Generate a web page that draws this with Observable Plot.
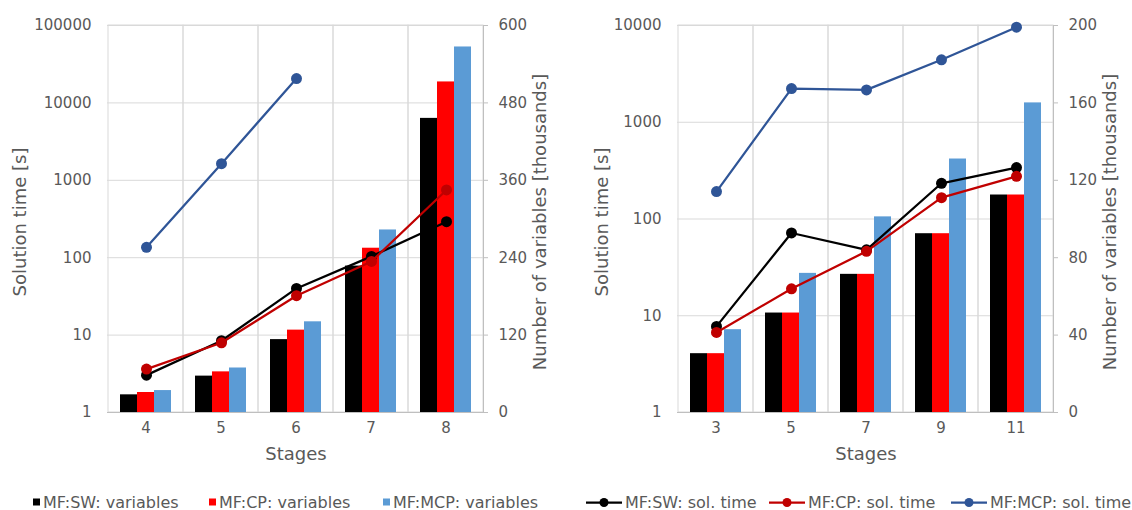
<!DOCTYPE html>
<html>
<head>
<meta charset="utf-8">
<script src="https://cdn.jsdelivr.net/npm/d3@7"></script>
<script src="https://cdn.jsdelivr.net/npm/@observablehq/plot@0.6"></script>
<style>
  body { margin: 0; background: #fff; font-family: "DejaVu Sans", sans-serif; }
  #chart { position: relative; width: 1132px; height: 510px; overflow: hidden; }
  .panel { position: absolute; top: 0; height: 470px; }
  .panel svg { position: absolute; left: 0; top: 0; }
  .bars text { fill: #595959; }
  #legend { position: absolute; left: 0; top: 470px; width: 1132px; height: 40px; font-size: 16px; color: #595959; }
  .item { position: absolute; top: 32px; transform: translateY(-50%); display: flex; align-items: center; white-space: nowrap; }
  .sq { width: 7px; height: 7px; margin-right: 3px; }
</style>
</head>
<body>
<div id="chart">
  <div class="panel" id="left"></div>
  <div class="panel" id="right"></div>
  <div id="legend"></div>
</div>
<script>
// ---------- data ----------
const seriesKeys = ["SW", "CP", "MCP"];
const varLabels = ["MF:SW: variables", "MF:CP: variables", "MF:MCP: variables"];
const timeLabels = ["MF:SW: sol. time", "MF:CP: sol. time", "MF:MCP: sol. time"];
const barColors = ["#000000", "#ff0000", "#5b9bd5"];
const lineColors = ["#000000", "#c00000", "#2f5597"];

// left panel
const stagesL = ["4", "5", "6", "7", "8"];
const varsL_SW = [27.4, 56.4, 113, 227, 456];
const varsL_CP = [31, 63, 127.7, 254.7, 512.5];
const varsL_MCP = [34, 69, 140.6, 283, 566.7];
const timeL_SW = [3.04, 8.45, 40.1, 104, 292];
const timeL_CP = [3.64, 7.96, 32.3, 89.5, 750];
const timeL_MCP = [136, 1641, 20600, null, null];
const logTicksL = [1, 10, 100, 1000, 10000, 100000];
const varTicksL = [0, 120, 240, 360, 480, 600];

// right panel
const stagesR = ["3", "5", "7", "9", "11"];
const varsR_SW = [30.4, 51.4, 71.4, 92.4, 112.4];
const varsR_CP = [30.4, 51.4, 71.4, 92.4, 112.4];
const varsR_MCP = [42.8, 71.9, 101.1, 131, 160];
const timeR_SW = [7.76, 71.7, 48, 234, 340];
const timeR_CP = [6.72, 19.0, 46.3, 166, 276];
const timeR_MCP = [192, 2230, 2160, 4420, 9600];
const logTicksR = [1, 10, 100, 1000, 10000];
const varTicksR = [0, 40, 80, 120, 160, 200];

// ---------- drawing ----------
const H = 470, MT = 25, MB = 58;
const FONT = "DejaVu Sans";

function drawPanel(el, cfg) {
  const {stages, vars, times, logTicks, varTicks, width, marginLeft, marginRight} = cfg;
  const logMax = logTicks[logTicks.length - 1];
  const varMax = varTicks[varTicks.length - 1];
  el.style.width = width + "px";
  el.style.left = cfg.left + "px";
  const baseStyle = {fontFamily: FONT, fontSize: "15px", color: "#595959", background: "transparent", overflow: "visible"};
  const common = {width, height: H, marginTop: MT, marginBottom: MB, marginLeft, marginRight};

  // Layer A: grid, left & bottom axes, titles
  const layerA = Plot.plot({
    ...common,
    style: baseStyle,
    x: {type: "band", domain: stages, padding: 0, tickSize: 0, tickPadding: 10, label: null},
    y: {type: "log", domain: [1, logMax], ticks: logTicks, tickFormat: d => String(d), tickSize: 0, tickPadding: 16, label: null},
    marks: [
      Plot.ruleY(logTicks, {stroke: "#d9d9d9"}),
      Plot.barY(stages, {x: d => d, y1: 1, y2: logMax, fill: "none", stroke: "#d9d9d9"}),
      Plot.ruleY([1], {stroke: "#bfbfbf"}),
      Plot.text(["Stages"], {text: d => d, frameAnchor: "bottom", lineAnchor: "middle", textAnchor: "middle", dy: 42, fontSize: 18}),
      Plot.text(["Solution time [s]"], {text: d => d, frameAnchor: "left", textAnchor: "middle", lineAnchor: "middle", dx: cfg.leftTitleDx, dy: 3, rotate: -90, fontSize: 18}),
      Plot.text(["Number of variables [thousands]"], {text: d => d, frameAnchor: "right", textAnchor: "middle", lineAnchor: "middle", dx: 56, dy: 3, rotate: -90, fontSize: 18})
    ]
  });

  // Layer B: grouped bars (variables), right linear axis
  const barTable = [];
  stages.forEach((s, i) => seriesKeys.forEach((k, j) => barTable.push({stage: s, series: k, value: vars[j][i]})));
  const layerB = Plot.plot({
    ...common,
    style: {...baseStyle, color: "#bfbfbf"},
    facet: {data: barTable, x: "stage"},
    fx: {domain: stages, padding: 0, axis: null, label: null},
    x: {domain: seriesKeys, paddingInner: 0, paddingOuter: 0.69, axis: null},
    y: {domain: [0, varMax], axis: "right", ticks: varTicks, tickSize: 4, tickPadding: 11, label: null, line: true},
    color: {domain: seriesKeys, range: barColors},
    marks: [
      Plot.barY(barTable, {x: "series", y: "value", fill: "series"})
    ]
  });
  layerB.classList.add("bars");

  // Layer C: solution-time lines on the log axis
  const lineMarks = [];
  seriesKeys.forEach((k, j) => {
    const pts = [];
    stages.forEach((s, i) => { if (times[j][i] != null) pts.push({stage: s, time: times[j][i]}); });
    lineMarks.push(Plot.line(pts, {x: "stage", y: "time", stroke: lineColors[j], strokeWidth: 2.25}));
    lineMarks.push(Plot.dot(pts, {x: "stage", y: "time", r: 5.5, fill: lineColors[j]}));
  });
  const layerC = Plot.plot({
    ...common,
    style: baseStyle,
    x: {type: "point", domain: stages, padding: 0.5, axis: null},
    y: {type: "log", domain: [1, logMax], axis: null},
    marks: lineMarks
  });

  el.append(layerA, layerB, layerC);
}

drawPanel(document.getElementById("left"), {
  left: 0, width: 566, marginLeft: 107, marginRight: 82, leftTitleDx: -87,
  stages: stagesL, vars: [varsL_SW, varsL_CP, varsL_MCP], times: [timeL_SW, timeL_CP, timeL_MCP],
  logTicks: logTicksL, varTicks: varTicksL
});
drawPanel(document.getElementById("right"), {
  left: 570, width: 562, marginLeft: 107, marginRight: 78, leftTitleDx: -75,
  stages: stagesR, vars: [varsR_SW, varsR_CP, varsR_MCP], times: [timeR_SW, timeR_CP, timeR_MCP],
  logTicks: logTicksR, varTicks: varTicksR
});

// ---------- legend ----------
const legend = document.getElementById("legend");
const barLegendX = [33, 209, 383];
const lineLegendX = [585, 768, 950];
varLabels.forEach((lab, j) => {
  const it = document.createElement("div");
  it.className = "item";
  it.style.left = barLegendX[j] + "px";
  it.innerHTML = `<span class="sq" style="background:${barColors[j]}"></span><span>${lab}</span>`;
  legend.appendChild(it);
});
timeLabels.forEach((lab, j) => {
  const it = document.createElement("div");
  it.className = "item";
  it.style.left = lineLegendX[j] + "px";
  const c = lineColors[j];
  it.innerHTML = `<svg width="38" height="12" style="margin-right:2px"><line x1="1" x2="37" y1="6" y2="6" stroke="${c}" stroke-width="2.25"/><circle cx="19" cy="6" r="4.5" fill="${c}"/></svg><span>${lab}</span>`;
  legend.appendChild(it);
});
</script>
</body>
</html>
